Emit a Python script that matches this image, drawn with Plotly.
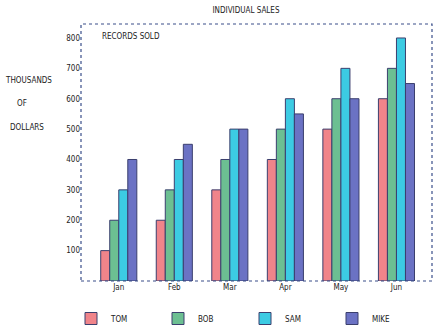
import plotly.graph_objects as go

months = ["Jan", "Feb", "Mar", "Apr", "May", "Jun"]
tom = [100, 200, 300, 400, 500, 600]
bob = [200, 300, 400, 500, 600, 700]
sam = [300, 400, 500, 600, 700, 800]
mike = [400, 450, 500, 550, 600, 650]
y_ticks = [100, 200, 300, 400, 500, 600, 700, 800]

FONT = "Liberation Sans Narrow, DejaVu Sans Condensed, Arial Narrow, sans-serif"

fig = go.Figure()
for name, vals, col in [("TOM", tom, "#f0848a"),
                        ("BOB", bob, "#6cbf92"),
                        ("SAM", sam, "#3ccbe3"),
                        ("MIKE", mike, "#6b72c4")]:
    fig.add_trace(go.Bar(x=months, y=vals, name=name,
                         marker=dict(color=col, line=dict(color="#3b3f6e", width=1))))

fig.update_layout(
    width=436, height=326,
    margin=dict(l=81, r=4, t=24, b=45, autoexpand=False),
    paper_bgcolor="white", plot_bgcolor="white",
    barmode="group", bargap=0.35, bargroupgap=0,
    font=dict(family=FONT, size=8, color="#222"),
    title=dict(text="INDIVIDUAL SALES", x=246 / 436, xanchor="center",
               xref="container", yref="container", y=1 - 10 / 326, yanchor="middle",
               font=dict(family=FONT, size=8, color="#222")),
    showlegend=True,
    legend=dict(orientation="h", xref="container", yref="container",
                x=71 / 436, xanchor="left", y=1 - 304 / 326, yanchor="top",
                entrywidth=42, traceorder="normal",
                font=dict(family=FONT, size=8, color="#222")),
    xaxis=dict(range=[-0.68, 5.64], showgrid=False, ticks="", zeroline=False,
               showline=False),
    yaxis=dict(range=[0, 846], tickvals=y_ticks, showgrid=False, ticks="", zeroline=False,
               showline=False, ticklen=0),
    shapes=[dict(type="rect", xref="paper", yref="paper", x0=0, x1=1, y0=0, y1=1,
                 line=dict(color="#3a4f8a", width=1.2, dash="dot"))],
    annotations=[
        dict(text="RECORDS SOLD", xref="paper", yref="paper", x=(100 - 81) / 351, y=0.95,
             xanchor="left", yanchor="middle", showarrow=False),
        dict(text="THOUSANDS", xref="paper", yref="paper", x=(3 - 81) / 351, y=(281 - 80) / 257,
             xanchor="left", yanchor="middle", showarrow=False),
        dict(text="OF", xref="paper", yref="paper", x=(22 - 81) / 351, y=(281 - 103) / 257,
             xanchor="center", yanchor="middle", showarrow=False),
        dict(text="DOLLARS", xref="paper", yref="paper", x=(8 - 81) / 351, y=(281 - 127) / 257,
             xanchor="left", yanchor="middle", showarrow=False),
    ],
)

# page margin off so the figure sits at the window's top-left corner
fig.write_html("out.html", config={"displayModeBar": False},
               post_script="document.body.style.margin='0';")
